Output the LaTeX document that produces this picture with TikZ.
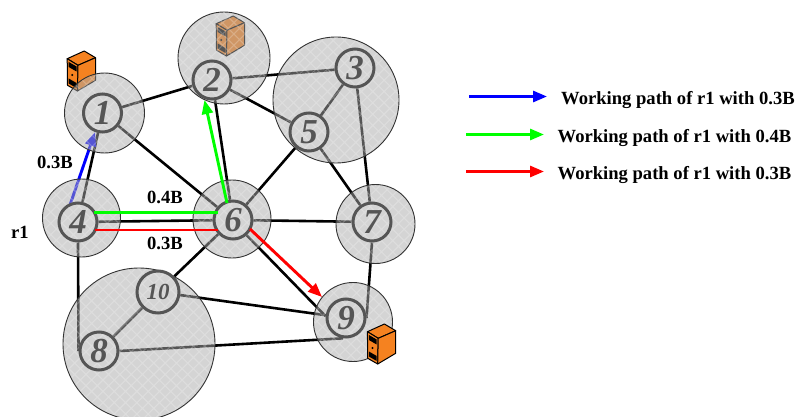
\documentclass[tikz,border=0pt]{standalone}
\usepackage{fontspec}
\setmainfont{Liberation Serif}
\usetikzlibrary{arrows.meta}
\pgfdeclarelayer{under}
\pgfdeclarelayer{top}
\pgfsetlayers{under,main,top}
\definecolor{lnk}{HTML}{000000}
\definecolor{greyline}{HTML}{555555}
\definecolor{srv}{HTML}{F58220}
\tikzset{
  x=1pt,y=-1pt,
  linkline/.style={draw=lnk,line width=2.6pt},
  pathline/.style={line width=2.9pt,-{Triangle[length=14pt,width=11pt]}},
  flatline/.style={line width=2.9pt},
  router/.style={circle,draw=greyline,line width=3pt,minimum size=38pt,inner sep=0pt,text=greyline,font=\fontsize{35}{35}\selectfont\bfseries\itshape},
  zonefill/.style={fill=black!33,fill opacity=.5,draw=none},
  zoneedge/.style={draw=black!80,line width=.9pt},
  tag/.style={font=\fontsize{18.6}{20}\selectfont\bfseries,inner sep=0pt},
  legend/.style={tag,anchor=west},
  serverface/.style={draw=black,line width=1pt,line join=round},
}
% name, x, y, r
\newcommand{\zonecircle}[4]{%
  \fill[zonefill] (#2,#3) circle[radius=#4pt];
  \begin{scope}
    \clip (#2,#3) circle[radius=#4pt];
    \draw[white,opacity=.22,line width=1.1pt,rotate around={45:(#2,#3)},step=8pt] (#2-90,#3-90) grid (#2+90,#3+90);
  \end{scope}
  \node[circle,minimum size=2*#4 pt,inner sep=0pt,outer sep=0pt,zoneedge] (#1) at (#2,#3) {};
}
% server, with its top-left at x,y
\newcommand{\serverbox}[3]{%
  \begin{scope}[shift={(#1,#2)}]
    \node[inner sep=0pt] (#3) at (14.5,20) {};
    \fill[serverface,fill=srv] (17.7,0) -- (29,6.7) -- (11.5,14.3) -- (.7,7.7) -- cycle;
    \fill[serverface,fill=srv] (.7,7.7) -- (11.5,14.3) -- (11,40) -- (1,34.3) -- cycle;
    \fill[serverface,fill=srv] (11.5,14.3) -- (29,6.7) -- (29,29.3) -- (11,40) -- cycle;
    \fill[black] (2.2,11) -- (10,15.5) -- (10,20.5) -- (2.2,16) -- cycle;
    \fill[black] (2.2,27.5) -- (10,32) -- (10,37) -- (2.2,32.5) -- cycle;
    \fill[black] (5.7,24) circle[radius=1.1pt];
  \end{scope}
}
\begin{document}
\begin{tikzpicture}
\useasboundingbox (0,0) rectangle (795,417);

% zones
\zonecircle{z1}{104.5}{113}{40}
\zonecircle{z2}{224}{58}{46}
\zonecircle{z3}{336}{100}{63}
\zonecircle{z4}{81.5}{218}{39}
\zonecircle{z6}{232}{219}{39}
\zonecircle{z7}{375.5}{224}{39.5}
\zonecircle{z9}{353}{322}{39.5}
\zonecircle{z8}{139}{344}{76}

% routers
\node[router] (n1) at (102.5,113) {1};
\node[router] (n2) at (212,80) {2};
\node[router] (n3) at (355,68) {3};
\node[router] (n5) at (309,132) {5};
\node[router] (n4) at (78,222) {4};
\node[router] (n6) at (233,220) {6};
\node[router] (n7) at (372,222) {7};
\node[router] (n9) at (346,318) {9};
\node[router] (n8) at (99,351) {8};
\node[router,minimum size=42pt,font=\fontsize{23}{23}\selectfont\bfseries\itshape] (n10) at (158,292) {10};

\begin{pgfonlayer}{under}
  \fill[white] (0,0) rectangle (795,417);
  \serverbox{66.5}{51}{s1}
  \serverbox{215.5}{16}{s2}
  \draw[linkline] (n4) -- (n1);
  \draw[linkline] (n1) -- (n2);
  \draw[linkline] (n1) -- (n6);
  \draw[linkline] (n2) -- (n6);
  \draw[linkline] (n2) -- (n3);
  \draw[linkline] (n2) -- (n5);
  \draw[linkline] (n3) -- (n5);
  \draw[linkline] (n3) -- (n7);
  \draw[linkline] (n5) -- (n7);
  \draw[linkline] (n5) -- (n6);
  \draw[linkline] (n6) -- (n7);
  \draw[linkline] (n4) -- (n6);
  \draw[linkline] (n4.south) -- (n8.west);
  \draw[linkline] (n6.-48) -- (n9.175);
  \draw[linkline] (n6) -- (n10);
  \draw[linkline] (n10) -- (n9);
  \draw[linkline] (n10) -- (n8);
  \draw[linkline] (n8.east) -- (n9.262);
  \draw[linkline] (n7.south) -- (n9.east);
  \coordinate (b1) at (70,205);
  \coordinate (b2) at (95,132);
  \draw[pathline,blue] (b1) -- (b2);
\end{pgfonlayer}

\begin{pgfonlayer}{top}
  \coordinate (g1) at (227,203);
  \coordinate (g2) at (204.5,100);
  \draw[pathline,green] (g1) -- (g2);
  \coordinate (g3) at (94,212.5);
  \coordinate (g4) at (218,212.5);
  \draw[flatline,green] (g3) -- (g4);
  \coordinate (r3) at (95,230);
  \coordinate (r4) at (218,230);
  \draw[flatline,red] (r3) -- (r4);
  \coordinate (r1) at (250,229);
  \coordinate (r2) at (322,297);
  \draw[pathline,red] (r1) -- (r2);
  \serverbox{366.7}{324}{s3}
\end{pgfonlayer}

% labels
\node[tag] (l1) at (55,162) {0.3B};
\node[tag] (l2) at (165,197) {0.4B};
\node[tag] (l3) at (165,243) {0.3B};
\node[tag] (l4) at (20,232) {r1};

% legend
\coordinate (k1a) at (469,96.5);
\coordinate (k1b) at (547,96.5);
\coordinate (k2a) at (466,134.5);
\coordinate (k2b) at (544,134.5);
\coordinate (k3a) at (466,171.5);
\coordinate (k3b) at (544,171.5);
\draw[pathline,blue] (k1a) -- (k1b);
\draw[pathline,green] (k2a) -- (k2b);
\draw[pathline,red] (k3a) -- (k3b);
\node[legend] (t1) at (561,100) {Working path of r1 with 0.3B};
\node[legend] (t2) at (557.5,138) {Working path of r1 with 0.4B};
\node[legend] (t3) at (557.5,175) {Working path of r1 with 0.3B};
\end{tikzpicture}
\end{document}
